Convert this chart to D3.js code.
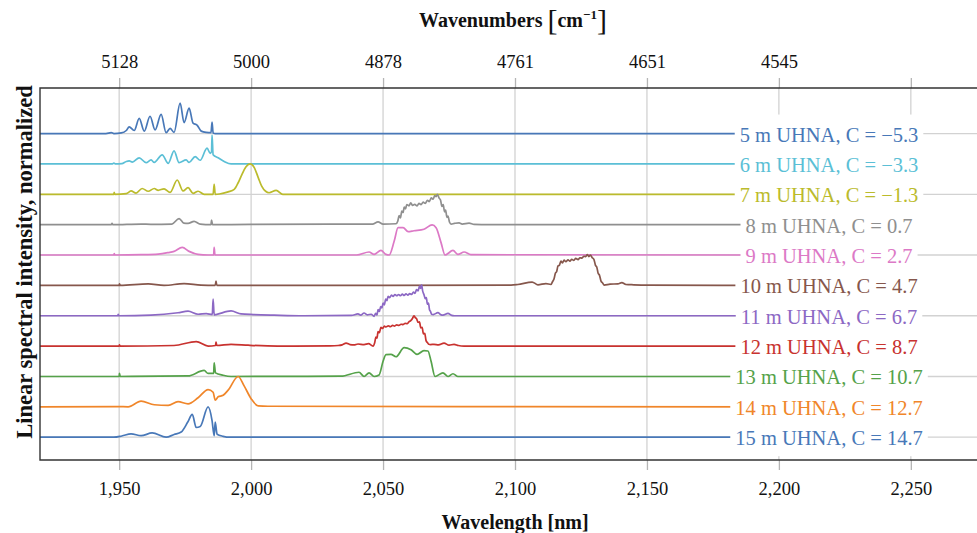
<!DOCTYPE html>
<html>
<head>
<meta charset="utf-8">
<script src="https://cdn.jsdelivr.net/npm/d3@7"></script>
<style>
body { margin: 0; background: #fff; }
svg { display: block; font-family: "Liberation Serif", "Times New Roman", serif; }
</style>
</head>
<body>
<div id="chart"></div>
<script>
// fiber labels, top to bottom
const labels = [
  "5 m UHNA, C = −5.3", "6 m UHNA, C = −3.3", "7 m UHNA, C = −1.3",
  "8 m UHNA, C = 0.7", "9 m UHNA, C = 2.7", "10 m UHNA, C = 4.7",
  "11 m UHNA, C = 6.7", "12 m UHNA, C = 8.7", "13 m UHNA, C = 10.7",
  "14 m UHNA, C = 12.7", "15 m UHNA, C = 14.7"
];
const colors = ["#4878b8", "#5bbfd6", "#bbbb2c", "#8f8f8f", "#dc79c6", "#86574c",
                "#8c68c4", "#c8322f", "#55a24a", "#f0862a", "#4878b8"];

const wavelengthTicks = [1950, 2000, 2050, 2100, 2150, 2200, 2250];
const wavenumberLabels = ["5128", "5000", "4878", "4761", "4651", "4545", ""];
const gridOffsets = [0, 2, 4, 6, 8, 10];

// spectra: [wavelength nm, normalized intensity]
const s5 = [[1920,0],[1945,0],[1947,0.03],[1948,0],[1950.8,0.02],[1952.7,0.1],[1953.8,0.22],[1955.7,0.1],
  [1957.6,0.5],[1959.5,0.08],[1961.7,0.57],[1963.6,0.12],[1965.9,0.63],[1967.8,0.03],[1969.3,0.17],[1970.8,0.04],
  [1973.1,1.0],[1974.6,0.36],[1976.5,0.84],[1978.0,0.34],[1979.5,0.28],[1981.1,0.08],[1983.0,0.04],[1984.8,0.03],
  [1985.2,0.38],[1985.6,0.02],[1986.5,0],[2000,0],[2200,0]];
const s6 = [[1920,0],[1947.5,0],[1948,0.03],[1948.5,0],[1951,0.01],[1952.7,0.08],[1953.8,0.1],[1955,0.06],
  [1957.6,0.2],[1960.2,0.04],[1962.1,0.13],[1963.3,0.05],[1966.3,0.3],[1968.6,0.02],[1970.8,0.43],[1972.7,0.04],
  [1975.4,0.13],[1976.5,0.05],[1978.8,0.24],[1980.7,0.12],[1983.3,0.52],[1984.5,0.35],[1985.0,0.4],[1985.2,0.95],
  [1985.6,0.3],[1987.5,0.2],[1989.8,0.08],[1992.4,0],[2200,0]];
const s7 = [[1920,0],[1948,0],[1948.1,0.06],[1948.4,0],[1952.7,0.02],[1954.5,0.11],[1956.4,0.04],[1958.7,0.19],
  [1961,0.1],[1963.3,0.19],[1964.8,0.13],[1967,0.18],[1969.3,0.06],[1972,0.47],[1974.2,0.11],[1976.1,0.22],
  [1978,0.03],[1979.9,0.1],[1982.2,0],[1985.6,0],[1986,0.33],[1986.4,0],[1988,0.01],[1991.3,0.08],[1993.6,0.16],
  [1995.1,0.38],[1996.5,0.65],[1998,0.9],[1999.6,1.0],[2001.2,0.88],[2002.7,0.55],[2004,0.27],[2005.5,0.1],
  [2006.8,0.05],[2009.5,0.13],[2012,0],[2200,0]];
const s8 = [[1920,0],[1947,0],[1947.3,0.04],[1947.6,0],[1958.3,0.02],[1962,0.01],[1970,0.02],[1972.7,0.2],
  [1974.5,0.05],[1976.1,0.04],[1978.4,0.11],[1980.7,0.02],[1984.8,0],[1985,0.15],[1985.4,0],[2000,0.01],
  [2030,0.02],[2046,0.02],[2048.1,0.09],[2050,0.02],[2054.9,0.03],[2055.6,0.12],[2056.1,0.3],[2056.6,0.22],
  [2057.1,0.45],[2057.6,0.4],[2058,0.58],[2058.5,0.52],[2059,0.66],[2059.8,0.62],[2060.5,0.72],[2061.2,0.63],
  [2062,0.67],[2062.9,0.62],[2063.6,0.7],[2064.4,0.66],[2065.2,0.74],[2066,0.7],[2066.8,0.8],[2067.5,0.76],
  [2068.3,0.88],[2069,0.84],[2069.6,0.96],[2070.1,0.92],[2070.6,1.0],[2071.2,0.88],[2071.8,0.8],[2072.3,0.6],
  [2072.8,0.66],[2073.3,0.42],[2073.7,0.48],[2074.2,0.24],[2074.6,0.28],[2075.2,0.08],[2075.8,0.02],[2077,0.04],
  [2078.8,0.06],[2080,0.02],[2082.6,0.05],[2084.5,0.01],[2090,0],[2200,0]];
const s9 = [[1920,0],[1948,0],[1948.1,0.05],[1948.4,0],[1958.3,0.01],[1964.8,0.03],[1968.6,0.08],[1970.8,0.12],
  [1973.9,0.25],[1976.5,0.12],[1979.9,0.02],[1983.7,0],[1985.8,0],[1986,0.25],[1986.3,0],[2000,0],[2040,0],
  [2044.7,0.1],[2046.6,0.02],[2049.2,0.15],[2051.1,0.02],[2052.3,0],[2054.2,0.45],[2055.7,0.9],[2057.6,0.9],
  [2059.5,0.77],[2061.7,0.8],[2065.5,0.85],[2068.6,0.99],[2070.1,0.9],[2072,0.4],[2073.5,0],[2076.5,0.15],
  [2078.4,0.02],[2080.7,0.1],[2083.3,0.01],[2200,0]];
const s10 = [[1920,0],[1950,0],[1950.1,0.05],[1950.4,0],[1961,0.05],[1967,0],[1974.6,0.06],[1981,0.01],
  [1986.4,0],[1986.7,0.14],[1987,0],[2000,0],[2050,0],[2098.5,0.01],[2101.1,0.03],[2106.5,0.11],[2108.7,0.02],
  [2111.7,0.06],[2113.6,0.03],[2114.2,0.12],[2114.8,0.22],[2115.3,0.4],[2115.8,0.46],[2116.3,0.64],[2116.8,0.66],
  [2117.4,0.8],[2118,0.74],[2118.6,0.83],[2119.3,0.78],[2120.1,0.84],[2120.8,0.8],[2121.5,0.86],[2122.3,0.82],
  [2123,0.89],[2123.9,0.85],[2124.6,0.91],[2125.3,0.9],[2126.1,0.96],[2126.8,0.95],[2127.4,1.01],[2128,0.95],
  [2128.6,1.0],[2129.2,0.92],[2129.9,0.86],[2130.5,0.66],[2131,0.6],[2131.5,0.4],[2132,0.34],[2132.6,0.14],
  [2133.2,0.08],[2133.8,0.01],[2136,0.04],[2139,0.05],[2140.5,0.09],[2142,0.03],[2145,0.02],[2150,0.01],[2200,0]];
const s11 = [[1920,0],[1949.5,0],[1949.6,0.05],[1949.9,0],[1962,0.02],[1972.3,0.1],[1976.1,0.15],[1979.9,0.05],
  [1983,0.07],[1985.3,0.04],[1985.6,0.55],[1986,0.03],[1986.7,0.04],[1992.4,0.16],[1996.2,0.06],[2001,0.04],
  [2008.7,0.02],[2020,0],[2038,0.01],[2040.5,0.06],[2041.5,0.02],[2042.8,0.09],[2044,0.03],[2045.5,0.05],
  [2046.6,-0.02],[2047.2,0.08],[2047.7,0.02],[2048.1,0.2],[2048.6,0.14],[2049.1,0.3],[2049.6,0.26],[2050,0.42],
  [2050.5,0.36],[2051,0.55],[2051.5,0.5],[2051.9,0.64],[2052.5,0.6],[2053.2,0.68],[2053.8,0.64],[2054.5,0.7],
  [2055.2,0.66],[2055.9,0.7],[2056.6,0.66],[2057.3,0.71],[2058,0.67],[2058.7,0.72],[2059.4,0.68],[2060.1,0.73],
  [2060.8,0.7],[2061.5,0.78],[2062.1,0.74],[2062.7,0.86],[2063.3,0.82],[2063.8,0.98],[2064.2,0.9],[2064.6,1.02],
  [2065,0.82],[2065.5,0.7],[2066,0.56],[2066.4,0.6],[2066.8,0.38],[2067.2,0.42],[2067.6,0.2],[2068,0.14],
  [2068.4,0.05],[2069,0.04],[2070.8,0.1],[2072,0.03],[2072.7,0.02],[2074.6,0.08],[2076,0.01],[2077,0],[2200,0]];
const s12 = [[1920,0],[1950,0],[1950.1,0.04],[1950.4,0],[1970.8,0.02],[1979.2,0.15],[1983.7,0],[1986.5,0.02],
  [1986.7,0.13],[1987,0.02],[1992.4,0.06],[1998.9,0.03],[2010,0],[2030,0.01],[2033,0.02],[2034.5,0.04],
  [2036,0.1],[2037.5,0.05],[2039,0.04],[2040.5,0.07],[2042.8,0.05],[2044.5,0.08],[2046.2,0],[2046.8,0.1],
  [2047.3,0.3],[2047.7,0.26],[2048.1,0.48],[2048.6,0.44],[2049.2,0.62],[2049.8,0.58],[2050.5,0.66],[2051.1,0.63],
  [2052,0.67],[2052.8,0.64],[2053.6,0.68],[2054.4,0.66],[2055.2,0.7],[2056,0.68],[2056.8,0.72],[2057.6,0.71],
  [2058.4,0.75],[2059.1,0.74],[2059.8,0.8],[2060.5,0.84],[2061.2,0.92],[2061.7,1.0],[2062.2,0.94],[2062.7,0.9],
  [2063.3,0.78],[2063.8,0.8],[2064.3,0.6],[2064.8,0.62],[2065.3,0.4],[2065.8,0.42],[2066.3,0.18],[2066.8,0.12],
  [2067.3,0.06],[2068,0.05],[2069.3,0.06],[2071,0.04],[2073.1,0.1],[2075,0.03],[2076.9,0.06],[2078.5,0.02],
  [2080.7,0],[2200,0]];
const s13 = [[1920,0],[1950,0],[1950.1,0.1],[1950.4,0],[1976.1,0.02],[1982.2,0.2],[1983.7,0.1],[1985.8,0.1],
  [1986,0.45],[1986.5,0.12],[1989.4,0.04],[1992.4,0],[2034.1,0.01],[2040.9,0.14],[2042.8,0],[2044.7,0.12],
  [2046.6,0],[2048.5,0.05],[2050,0.5],[2051.1,0.72],[2053,0.73],[2054.9,0.65],[2058,0.95],[2060.6,0.88],
  [2062.9,0.73],[2065.5,0.85],[2067,0.84],[2068.2,0.5],[2069.7,0],[2072.7,0.12],[2074.6,0],[2076.5,0.09],
  [2078.4,0],[2200,0]];
const s14 = [[1920,0],[1949.6,0.01],[1953.4,0],[1958.3,0.19],[1963.3,0.07],[1968.6,0.05],[1972.3,0.17],
  [1976.1,0.1],[1979.9,0.3],[1983.7,0.57],[1985.6,0.48],[1986.4,0.22],[1987.5,0.33],[1989.4,0.38],[1991.3,0.55],
  [1995.1,1.0],[1997.3,0.7],[2000,0.27],[2002.7,0.03],[2006.4,0.02],[2200,0]];
const s15 = [[1920,0],[1948,0],[1951,0.04],[1954.5,0.11],[1958.3,0.05],[1962.5,0.14],[1967.8,0],[1970.8,0.09],
  [1973.5,0.17],[1976,0.5],[1977.7,0.75],[1979.2,0.32],[1980.7,0.35],[1983.7,1.0],[1985.2,0.55],[1986,0.05],
  [1986.4,0.5],[1987.1,0.1],[1989.4,0.03],[1992,0],[2200,0]];

const spectra = [s5, s6, s7, s8, s9, s10, s11, s12, s13, s14, s15];

const W = 977, H = 533;
const plotLeft = 40, plotTop = 88, plotBottom = 460, plotRight = 990;

const x = d3.scaleLinear().domain([1920, 2280]).range([plotLeft, plotRight]);
const y = d3.scaleLinear().domain([-0.75, 11.5]).range([plotBottom, plotTop]);

const svg = d3.select("#chart").append("svg")
  .attr("width", W).attr("height", H);

svg.append("clipPath").attr("id", "clip")
  .append("rect").attr("x", plotLeft).attr("y", plotTop)
  .attr("width", plotRight - plotLeft).attr("height", plotBottom - plotTop);

// grid
const grid = svg.append("g").attr("stroke", "#d2d2d2").attr("stroke-width", 1.3);
grid.selectAll(".vg").data(wavelengthTicks).enter().append("line")
  .attr("x1", d => x(d)).attr("x2", d => x(d))
  .attr("y1", plotTop).attr("y2", plotBottom);
grid.selectAll(".hg").data(gridOffsets).enter().append("line")
  .attr("x1", plotLeft).attr("x2", plotRight)
  .attr("y1", d => y(d)).attr("y2", d => y(d));

// traces
const plot = svg.append("g").attr("clip-path", "url(#clip)");
spectra.forEach((s, i) => {
  const off = spectra.length - 1 - i;
  const line = d3.line()
    .x(d => x(d[0]))
    .y(d => y(d[1] + off))
    .curve(d3.curveMonotoneX);
  plot.append("path")
    .datum(s)
    .attr("fill", "none")
    .attr("stroke", colors[i])
    .attr("stroke-width", 1.7)
    .attr("stroke-linejoin", "round")
    .attr("d", line);
});

// labels with white boxes
const labelX = x(2219);
labels.forEach((txt, i) => {
  const off = labels.length - 1 - i;
  const g = svg.append("g").attr("transform", `translate(${labelX},${y(off)})`);
  const t = g.append("text")
    .attr("text-anchor", "middle")
    .attr("dominant-baseline", "central")
    .attr("y", 1)
    .attr("font-size", 20.5)
    .attr("fill", colors[i])
    .text(txt);
  const bb = t.node().getBBox();
  g.insert("rect", "text")
    .attr("x", bb.x - 5).attr("width", bb.width + 10)
    .attr("y", -19).attr("height", 38)
    .attr("fill", "#fff");
});

// axes
const xb = svg.append("g").attr("transform", `translate(0,${plotBottom})`)
  .call(d3.axisBottom(x).tickValues(wavelengthTicks).tickFormat(d3.format(",")).tickSize(10).tickPadding(12));
const xt = svg.append("g").attr("transform", `translate(0,${plotTop})`)
  .call(d3.axisTop(x).tickValues(wavelengthTicks).tickFormat((d, i) => wavenumberLabels[i]).tickSize(10).tickPadding(10));
[xb, xt].forEach(a => {
  a.select(".domain").remove();
  a.selectAll(".tick line").attr("stroke", "#b5b5b5").attr("stroke-width", 1.3);
  a.selectAll(".tick text").attr("font-size", 18.5).attr("fill", "#111")
    .attr("font-family", "Liberation Serif, serif");
});

// frame
svg.append("path")
  .attr("d", `M${plotRight},${plotTop}H${plotLeft}V${plotBottom}H${plotRight}`)
  .attr("fill", "none").attr("stroke", "#333").attr("stroke-width", 1.4);

// titles
svg.append("text")
  .attr("x", (plotLeft + plotRight) / 2).attr("y", 529)
  .attr("text-anchor", "middle").attr("font-size", 20).attr("font-weight", "bold")
  .attr("fill", "#111")
  .text("Wavelength [nm]");

const tt = svg.append("text")
  .attr("x", (plotLeft + plotRight) / 2 - 2).attr("y", 27)
  .attr("text-anchor", "middle").attr("font-size", 20).attr("font-weight", "bold")
  .attr("fill", "#111");
tt.append("tspan").text("Wavenumbers ");
tt.append("tspan").attr("font-weight", "normal").attr("font-size", 30).attr("dy", 3).text("[");
tt.append("tspan").attr("dy", -3).text("cm");
tt.append("tspan").attr("font-size", 13).attr("dy", -8).text("−1");
tt.append("tspan").attr("font-weight", "normal").attr("font-size", 30).attr("dy", 11).text("]");

svg.append("text")
  .attr("transform", `translate(32,262) rotate(-90)`)
  .attr("text-anchor", "middle").attr("font-size", 22.5).attr("font-weight", "bold")
  .attr("fill", "#111")
  .text("Linear spectral intensity, normalized");
</script>
</body>
</html>
